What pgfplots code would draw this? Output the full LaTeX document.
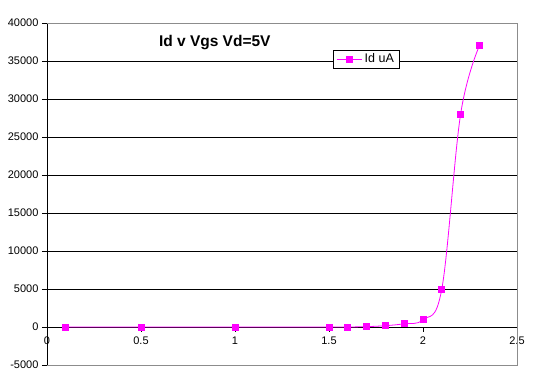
\documentclass[border=0pt]{standalone}
\usepackage{pgfplots}
\pgfplotsset{compat=1.18}
\usepackage{fontspec}
\setmainfont{Liberation Sans}
\definecolor{mag}{RGB}{255,0,255}
\definecolor{framegray}{RGB}{140,140,140}
\begin{document}
\begin{tikzpicture}
\begin{axis}[name=ax, scale only axis, width=470pt, height=342pt,
 xmin=0, xmax=2.5, ymin=-5000, ymax=40000,
 axis x line=middle, axis y line=left, axis line style={-, black, line width=0.8pt},
 xtick={0,0.5,1,1.5,2,2.5}, ytick={-5000,0,5000,10000,15000,20000,25000,30000,35000,40000},
 xticklabels={0,0.5,1,1.5,2,2.5},
 tick align=outside, major tick length=5pt,
 tick style={black, line width=0.8pt},
 ymajorgrids, grid style={black, line width=0.8pt},
 hide obscured x ticks=false, hide obscured y ticks=false,
 scaled y ticks=false,
 yticklabel style={/pgf/number format/.cd, fixed, 1000 sep={}},
 ticklabel style={font=\fontsize{11}{13}\selectfont},
 /pgf/number format/assume math mode=true,
 xticklabel style={yshift=-1pt},
 clip=false,
 legend style={at={(rel axis cs:0.6085,0.9211)}, anchor=north west, draw=black, line width=0.6pt, fill=white,
   font=\fontsize{12.5}{14}\selectfont, inner xsep=3pt, inner ysep=1.5pt, row sep=0pt},
 legend image code/.code={\draw[mark repeat=2,mark phase=2] plot coordinates {(0cm,0cm) (0.45cm,0cm) (0.9cm,0cm)};},
]
\draw[framegray, line width=0.8pt] (rel axis cs:0,1) -- (rel axis cs:1,1) -- (rel axis cs:1,0) -- (rel axis cs:0,0);
\addplot[mag, line width=0.8pt, smooth, tension=0.6, mark=square*, mark size=3pt, mark options={solid, fill=mag, draw=mag}]
 coordinates {(0.1,0) (0.5,0) (1,0) (1.5,0) (1.6,0) (1.7,50) (1.8,170) (1.9,430) (2.0,960) (2.1,5000) (2.2,28000) (2.3,37000)};
\addlegendentry{Id uA}
\node[font=\bfseries\fontsize{15.5}{18}\selectfont] at (rel axis cs:0.357,0.9415) {Id v Vgs Vd=5V};
\end{axis}
\pgfresetboundingbox
\path ([shift={(-47pt,-27pt)}]ax.south west) rectangle ([shift={(33pt,23pt)}]ax.north east);
\end{tikzpicture}
\end{document}
